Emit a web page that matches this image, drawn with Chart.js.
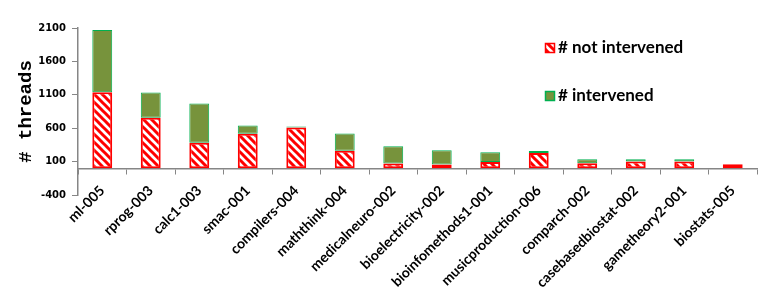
<!DOCTYPE html>
<html>
<head>
<meta charset="utf-8">
<script src="https://cdn.jsdelivr.net/npm/chart.js@4.4.1/dist/chart.umd.min.js"></script>
<style>
  html, body { margin: 0; padding: 0; background: #fff; }
  #wrap { width: 759px; height: 299px; position: relative; }
</style>
</head>
<body>
<div id="wrap"><canvas id="threadsChart"></canvas></div>
<script>
// course ids along the x axis
const courses = ['ml-005', 'rprog-003', 'calc1-003', 'smac-001', 'compilers-004',
    'maththink-004', 'medicalneuro-002', 'bioelectricity-002', 'bioinfomethods1-001',
    'musicproduction-006', 'comparch-002', 'casebasedbiostat-002', 'gametheory2-001', 'biostats-005'];
const notIntervened = [1137, 755, 383, 517, 612, 264, 70, 55, 95, 229, 76, 100, 100, 61];
const intervened    = [934, 378, 586, 125, 15, 258, 259, 214, 145, 30, 59, 35, 35, 0];
const yMin = -400;
const yMax = 2100;
const yStep = 500;

const canvas = document.getElementById('threadsChart');
const ctx = canvas.getContext('2d');

function makeHatch() {
    const tile = document.createElement('canvas');
    tile.width = 8; tile.height = 8;
    const g = tile.getContext('2d');
    g.fillStyle = '#ffffff';
    g.fillRect(0, 0, 8, 8);
    g.strokeStyle = '#ff0000';
    g.lineWidth = 3;
    g.beginPath();
    g.moveTo(-2, -2); g.lineTo(10, 10);
    g.moveTo(-2, 6); g.lineTo(2, 10);
    g.moveTo(6, -2); g.lineTo(10, 2);
    g.stroke();
    return ctx.createPattern(tile, 'repeat');
}
const hatch = makeHatch();

// legend drawn at the right, like the excel one
const sideLegend = {
    id: 'sideLegend',
    afterDraw(chart) {
        const c = chart.ctx;
        c.save();
        c.font = 'bold 17px Lato';
        chart.data.datasets.forEach(function(ds, i) {
            const y = 43 + i * 48;
            c.fillStyle = ds.backgroundColor;
            c.fillRect(545, y, 10, 10);
            c.strokeStyle = ds.borderColor;
            c.lineWidth = 1.5;
            c.strokeRect(545.5, y + 0.5, 9, 9);
            c.fillStyle = '#000';
            c.fillText(ds.label, 558, y + 10);
        });
        c.restore();
    }
};

new Chart(canvas, {
    type: 'bar',
    data: {
        labels: courses,
        datasets: [
            {
                label: '# not intervened',
                data: notIntervened,
                backgroundColor: hatch,
                borderColor: '#ff0000',
                borderWidth: 2,
                borderSkipped: false
            },
            {
                label: '# intervened',
                data: intervened,
                backgroundColor: '#77933c',
                borderColor: '#00b050',
                borderWidth: 1,
                borderSkipped: false
            }
        ]
    },
    options: {
        responsive: true,
        maintainAspectRatio: false,
        animation: false,
        layout: { padding: { top: 28, right: 2, bottom: 104, left: 0 } },
        datasets: { bar: { barPercentage: 0.41, categoryPercentage: 1.0 } },
        plugins: {
            legend: { display: false },
            tooltip: { enabled: false }
        },
        scales: {
            x: {
                stacked: true,
                position: { y: 0 },
                grid: { drawOnChartArea: false, offset: true, tickLength: 5, color: '#868686' },
                border: { color: '#868686', width: 1.5 },
                ticks: {
                    minRotation: 45,
                    maxRotation: 45,
                    padding: 9,
                    color: '#000',
                    font: { family: 'Lato', size: 14, weight: 'bold' }
                }
            },
            y: {
                stacked: true,
                min: yMin,
                max: yMax,
                ticks: {
                    stepSize: yStep,
                    padding: 6,
                    color: '#000',
                    font: { family: 'DejaVu Sans', size: 10, weight: 'bold' },
                    callback: function(v) { return String(v); }
                },
                grid: { drawOnChartArea: false, tickLength: 6, color: '#868686' },
                border: { color: '#868686', width: 1.5 },
                title: {
                    display: true,
                    text: '# threads',
                    color: '#000',
                    padding: { top: 15, bottom: 4 },
                    font: { family: 'Liberation Mono', size: 19, weight: 'bold' }
                },
                afterFit: function(scale) {
                    scale.width = 78;
                }
            }
        }
    },
    plugins: [sideLegend]
});
</script>
</body>
</html>
